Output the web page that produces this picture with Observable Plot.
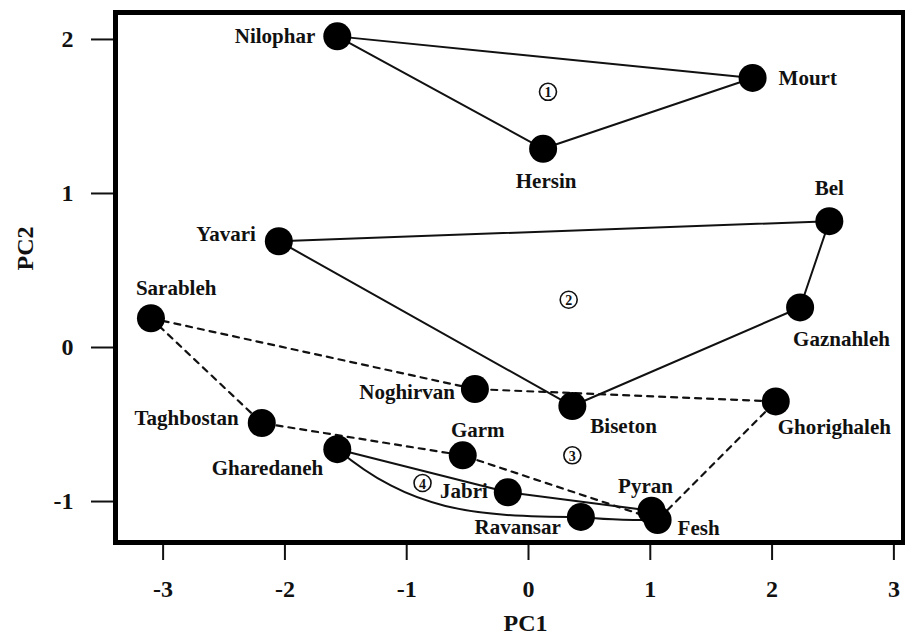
<!DOCTYPE html>
<html>
<head>
<meta charset="utf-8">
<script src="https://cdn.jsdelivr.net/npm/d3@7"></script>
<script src="https://cdn.jsdelivr.net/npm/@observablehq/plot@0.6"></script>
<style>
  html, body { margin: 0; padding: 0; background: #fff; }
  #chart svg { display: block; }
</style>
</head>
<body>
<div id="chart"></div>
<script>
// ---- data ----
const sites = ["Nilophar","Mourt","Hersin","Bel","Gaznahleh","Yavari","Biseton","Sarableh","Noghirvan","Ghorighaleh","Taghbostan","Gharedaneh","Garm","Jabri","Ravansar","Pyran","Fesh"];
const pc1 = [-1.57, 1.84, 0.12, 2.47, 2.23, -2.05, 0.36, -3.10, -0.44, 2.03, -2.19, -1.57, -0.54, -0.17, 0.43, 1.01, 1.06];
const pc2 = [2.02, 1.75, 1.29, 0.82, 0.26, 0.69, -0.38, 0.19, -0.27, -0.35, -0.49, -0.66, -0.70, -0.94, -1.10, -1.06, -1.12];

const group1 = ["Nilophar","Mourt","Hersin","Nilophar"];
const group2 = ["Yavari","Bel","Gaznahleh","Biseton","Yavari"];
const group3 = ["Sarableh","Noghirvan","Ghorighaleh","Fesh","Garm","Taghbostan","Sarableh"];
const group4Upper = ["Gharedaneh","Jabri","Pyran"];
const group4Lower = ["Gharedaneh","Ravansar","Fesh"];

const groupIds = ["1","2","3","4"];
const groupPC1 = [0.16, 0.33, 0.36, -0.87];
const groupPC2 = [1.66, 0.31, -0.70, -0.88];

const xTicks = [-3,-2,-1,0,1,2,3];
const yTicks = [-1,0,1,2];

// ---- label placement (styling, not data) ----
const labelPlacement = {
  Nilophar:   ["end",   -22,   0],
  Mourt:      ["start",  26,   0],
  Hersin:     ["middle",  3,  32],
  Bel:        ["middle",  0, -33],
  Gaznahleh:  ["start",  -7,  32],
  Yavari:     ["end",   -23,  -7],
  Biseton:    ["start",  18,  20],
  Sarableh:   ["start", -15, -30],
  Noghirvan:  ["end",   -20,   3],
  Ghorighaleh:["start",   2,  26],
  Taghbostan: ["end",   -23,  -5],
  Gharedaneh: ["end",   -14,  19],
  Garm:       ["middle", 15, -25],
  Jabri:      ["end",   -20,  -1],
  Ravansar:   ["end",   -20,  10],
  Pyran:      ["middle", -6, -25],
  Fesh:       ["start",  20,   8]
};

const points = sites.map((s, i) => ({site: s, pc1: pc1[i], pc2: pc2[i]}));
const bySite = new Map(points.map(d => [d.site, d]));
const path = names => names.map(n => bySite.get(n));
const groups = groupIds.map((g, i) => ({id: g, pc1: groupPC1[i], pc2: groupPC2[i]}));

// a sagging curve: leaves each point heading down, arrives level
function curveSag(context) {
  let x0, y0, n = 0;
  return {
    areaStart() {}, areaEnd() {},
    lineStart() { n = 0; },
    lineEnd() {},
    point(x, y) {
      x = +x; y = +y;
      if (n === 0) context.moveTo(x, y);
      else {
        const dx = x - x0, dy = y - y0;
        context.bezierCurveTo(x0 + 0.3 * dx, y0 + 0.9 * dy, x0 + 0.55 * dx, y, x, y);
      }
      x0 = x; y0 = y; n++;
    }
  };
}

const font = "'Liberation Serif', 'Times New Roman', serif";

const labelMarks = sites.map(s => {
  const [anchor, dx, dy] = labelPlacement[s];
  return Plot.text(points.filter(d => d.site === s), {
    x: "pc1", y: "pc2", text: "site",
    textAnchor: anchor, dx, dy,
    fontSize: 21, fontWeight: "bold", fill: "#111",
    letterSpacing: 0.5
  });
});

const chart = Plot.plot({
  width: 905,
  height: 644,
  marginLeft: 115,
  marginRight: 2,
  marginTop: 12,
  marginBottom: 102,
  style: {fontFamily: font, fontWeight: "bold", background: "#fff", color: "#111"},
  x: {domain: [-3.391, 3.079]},
  y: {domain: [-1.266, 2.175]},
  marks: [
    Plot.axisX(xTicks, {tickSize: 18, tickPadding: 19, fontSize: 24, strokeWidth: 2, label: null, tickFormat: d => String(d)}),
    Plot.axisY(yTicks, {tickSize: 24, tickPadding: 18, fontSize: 24, strokeWidth: 2, label: null, tickFormat: d => String(d)}),
    Plot.line(path(group1), {x: "pc1", y: "pc2", stroke: "#111", strokeWidth: 2}),
    Plot.line(path(group2), {x: "pc1", y: "pc2", stroke: "#111", strokeWidth: 2}),
    Plot.line(path(group3), {x: "pc1", y: "pc2", stroke: "#111", strokeWidth: 2.2, strokeDasharray: "6,6"}),
    Plot.line(path(group4Upper), {x: "pc1", y: "pc2", stroke: "#111", strokeWidth: 2}),
    Plot.line(path(group4Lower), {x: "pc1", y: "pc2", stroke: "#111", strokeWidth: 2, curve: curveSag}),
    Plot.dot(points, {x: "pc1", y: "pc2", r: 14, fill: "#000", stroke: "none"}),
    ...labelMarks,
    Plot.dot(groups, {x: "pc1", y: "pc2", r: 8.5, fill: "#fff", stroke: "#111", strokeWidth: 1.6}),
    Plot.text(groups, {x: "pc1", y: "pc2", text: "id", fontSize: 14, fontWeight: "bold", fill: "#111", dy: 1}),
    Plot.frame({stroke: "#000", strokeWidth: 5}),
    Plot.text(["PC1"], {frameAnchor: "bottom", dx: 16, dy: 88, fontSize: 24, fontWeight: "bold", fill: "#111"}),
    Plot.text(["PC2"], {frameAnchor: "left", dx: -90, dy: -7, rotate: -90, fontSize: 24, fontWeight: "bold", fill: "#111"})
  ]
});

document.getElementById("chart").appendChild(chart);
</script>
</body>
</html>
